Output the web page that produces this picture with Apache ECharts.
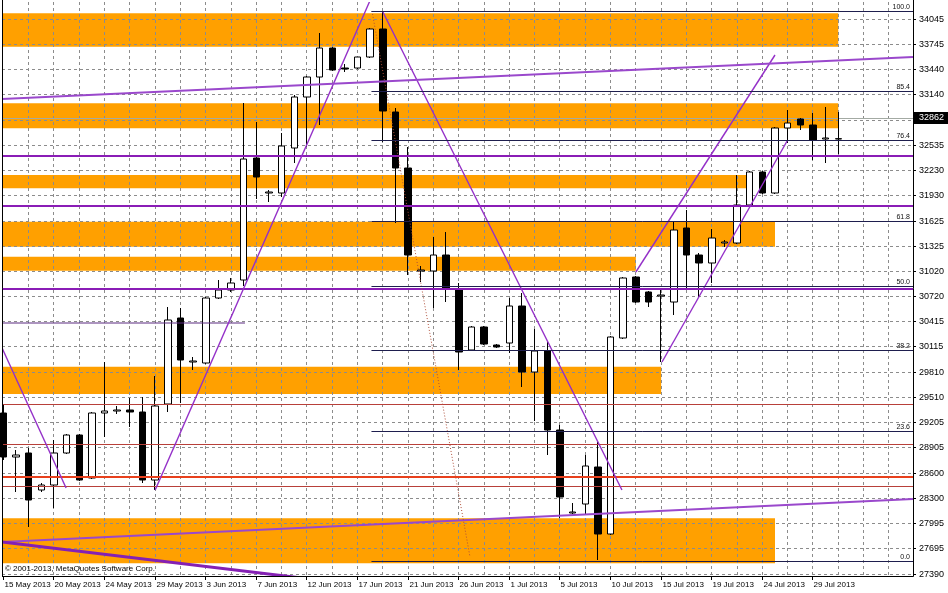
<!DOCTYPE html>
<html><head><meta charset="utf-8">
<script src="https://cdn.jsdelivr.net/npm/echarts@6/dist/echarts.min.js"></script>
<style>html,body{margin:0;padding:0;background:#fff}#c{width:948px;height:593px}</style>
</head><body><div id="c"></div>
<script>
// ================= DATA =================
const dateLabels = ['15 May 2013','20 May 2013','24 May 2013','29 May 2013','3 Jun 2013','7 Jun 2013','12 Jun 2013','17 Jun 2013','21 Jun 2013','26 Jun 2013','1 Jul 2013','5 Jul 2013','10 Jul 2013','15 Jul 2013','19 Jul 2013','24 Jul 2013','29 Jul 2013'];
const dateLabelBars = [0,4,8,12,16,20,24,28,32,36,40,44,48,52,56,60,64];

const barOpen  = [29322,28794,28842,28398,28458,28842,29058,28542,29322,29346,29358,29334,28518,29430,30462,29934,29922,30702,30798,30918,32382,31962,31962,32502,33114,33354,33702,33462,33462,33594,33930,32934,32262,31026,31026,31218,30798,30078,30354,30138,30162,30606,29814,30066,29118,28122,28230,28674,27870,30222,30954,30774,30726,30654,31542,31218,31122,31362,31362,31818,32214,31962,32742,32850,32778,32610,32610];
const barClose = [28794,28818,28278,28458,28842,29058,28518,29322,29346,29358,29334,28518,29406,30438,29958,29946,30702,30798,30882,32370,32154,31974,32526,33114,33354,33702,33438,33450,33594,33930,32946,32262,31218,31038,31218,30822,30054,30354,30150,30114,30606,29814,30066,29118,28314,28134,28686,27870,30234,30942,30654,30654,30738,31518,31218,31122,31422,31374,31818,32214,31962,32742,32802,32778,32598,32622,32614];
const barLow   = [28758,28374,27954,28374,28182,28830,28506,28530,29034,29310,29154,28482,28398,29334,29442,29838,29910,30690,30774,30846,31890,31854,31914,32322,32514,32778,33426,33414,33450,33582,32574,31602,30978,30894,30582,30654,29838,30066,30138,30102,30042,29634,29226,28818,28062,28110,28098,27558,27858,30210,30642,30594,29934,30498,30798,30702,30882,31314,31350,31806,31950,31950,32562,32718,32358,32322,32430];
const barHigh  = [29418,28878,28902,28482,28998,29070,29070,29334,29934,29406,29502,29514,29766,30594,30582,29994,30714,30918,30942,33042,32814,31998,32682,33138,33366,33882,33714,33510,33594,33942,34134,32982,32514,31086,31434,31494,30882,30366,30366,30150,30702,30762,30330,30174,29178,28242,28818,28974,30246,30954,30966,30786,30798,31614,31758,31242,31530,31398,32178,32226,32226,32754,32958,32862,32922,32994,32934];

const yTicks = [27390,27695,27995,28300,28600,28905,29205,29510,29810,30115,30415,30720,31020,31325,31625,31930,32230,32535,32835,33140,33440,33745,34045];
const bidPrice = 32862;

// supply/demand zones: start bar, end bar, top price, bottom price
const zoneStart  = [-1,-1,-1,-1,-1,-1,-1];
const zoneEnd    = [66,66,59,61,50,52,61];
const zoneTop    = [34118,33038,32178,31618,31198,29878,28058];
const zoneBottom = [33718,32738,32018,31318,31030,29550,27518];

const purpleLevels = [32406,31806,30810];
const redLevels = [29430,28950,28446];
const redMainLevel = [28554];
const shortLevel = [[-1,30402,19.1,30402]];

// trend lines: [bar1, price1, bar2, price2]
const trendThin = [[12.0,28398,30.0,34622],[30.0,34134,48.9,28398],[-0.11,30104,4.96,28422],[50.0,31014,61.0,33618],[52.07,29934,62.0,32598]];
const trendWide = [[-0.11,33089,71.91,33594],[-0.11,27774,71.91,28290]];
const trendThick = [[-0.11,27775,26,27298]];
const fibTrend = [[29.14,34146,36.89,27594]];

const fibHigh = 34146, fibLow = 27546, fibStartBar = 29.1;
const fibRatios = [0,23.6,38.2,50,61.8,76.4,85.4,100];

// ================= CHART =================
const X_MIN = -0.107, X_MAX = 71.909, Y_MIN = 27366, Y_MAX = 34254;
const ORANGE = '#FFA000';
const FONT = '"Liberation Sans", Arial, sans-serif';
const cr = v => Math.round(v - 0.5) + 0.5;

function lineEl(x1,y1,x2,y2,stroke,w,dash){
  return {type:'line', shape:{x1:x1,y1:y1,x2:x2,y2:y2}, style:{stroke:stroke, lineWidth:w, lineDash:dash||null}};
}
function trendSeries(data, stroke, width, dash){
  return {type:'custom', z:4, clip:true, silent:true, data:data,
    renderItem:function(params, api){
      const a = api.coord([api.value(0), api.value(1)]);
      const b = api.coord([api.value(2), api.value(3)]);
      return lineEl(a[0],a[1],b[0],b[1],stroke,width,dash);
    }};
}
function levelSeries(values, stroke, width, z){
  return {type:'custom', z:z||4, clip:true, silent:true, data:values.map(v=>[v]),
    renderItem:function(params, api){
      const cs = params.coordSys;
      const y = api.coord([0, api.value(0)])[1];
      const yy = width % 2 === 1 ? cr(y) : Math.round(y);
      return lineEl(cs.x, yy, cs.x+cs.width, yy, stroke, width);
    }};
}

const gridBars = [];
for (let b = 2; b <= 70; b += 2) gridBars.push(b);

const candleData = barOpen.map((o,i)=>[i, o, barClose[i], barLow[i], barHigh[i]]);

const option = {
  animation:false,
  backgroundColor:'#ffffff',
  grid:{left:2, right:35, top:2, bottom:17},
  xAxis:{type:'value', min:X_MIN, max:X_MAX, show:false},
  yAxis:{type:'value', min:Y_MIN, max:Y_MAX, show:false},
  series:[
    // zones
    {type:'custom', z:1, clip:true, silent:true,
     data: zoneStart.map((s,i)=>[s, zoneEnd[i], zoneTop[i], zoneBottom[i]]),
     renderItem:function(params, api){
       const p1 = api.coord([api.value(0), api.value(2)]);
       const p2 = api.coord([api.value(1), api.value(3)]);
       return {type:'rect', shape:{x:p1[0], y:p1[1], width:p2[0]-p1[0], height:p2[1]-p1[1]}, style:{fill:ORANGE}};
     }},
    // horizontal grid
    {type:'custom', z:2, clip:true, silent:true, data:yTicks.map(v=>[v]),
     renderItem:function(params, api){
       const cs = params.coordSys;
       const y = cr(api.coord([0, api.value(0)])[1]);
       return lineEl(cs.x, y, cs.x+cs.width, y, '#8c8c8c', 1, [3,3]);
     }},
    // vertical grid
    {type:'custom', z:2, clip:true, silent:true, data:gridBars.map(b=>[b]),
     renderItem:function(params, api){
       const cs = params.coordSys;
       const x = cr(api.coord([api.value(0), Y_MIN])[0]);
       return lineEl(x, cs.y, x, cs.y+cs.height, '#8c8c8c', 1, [3,3]);
     }},
    // candles
    {type:'candlestick', z:3, clip:true, barWidth:7, data:candleData, silent:true,
     itemStyle:{color:'#ffffff', color0:'#000000', borderColor:'#000000', borderColor0:'#000000', borderWidth:1}},
    // levels
    levelSeries([bidPrice], '#a3aaa3', 1, 3),
    levelSeries(purpleLevels, '#8A1CB6', 2),
    levelSeries(redLevels, '#B8403A', 1),
    levelSeries(redMainLevel, '#E8401C', 2),
    trendSeries(shortLevel, '#5a2a80', 1),
    trendSeries(trendThin, '#9430C8', 1.4),
    trendSeries(trendWide, '#9A48CC', 2),
    trendSeries(trendThick, '#8420B4', 3),
    trendSeries(fibTrend, '#B0503A', 1, [1,2]),
    // fibonacci
    {type:'custom', z:4, clip:false, silent:true, data:fibRatios.map(r=>[r]),
     renderItem:function(params, api){
       const cs = params.coordSys;
       const r = api.value(0);
       const v = fibLow + (fibHigh - fibLow) * r / 100;
       const p = api.coord([fibStartBar, v]);
       const y = cr(p[1]);
       const right = cs.x + cs.width;
       return {type:'group', children:[
         lineEl(p[0], y, right, y, '#1E1E4E', 1),
         {type:'text', x:right-3, y:y-1, style:{text:r.toFixed(1), fill:'#111', font:'7px '+FONT, align:'right', verticalAlign:'bottom'}}
       ]};
     }},
    // right axis labels
    {type:'custom', z:6, clip:false, silent:true, data:yTicks.map(v=>[v]),
     renderItem:function(params, api){
       const cs = params.coordSys;
       const right = cs.x + cs.width;
       const y = cr(api.coord([0, api.value(0)])[1]);
       return {type:'group', children:[
         lineEl(right, y, right+3, y, '#000', 1),
         {type:'text', x:right+6, y:y, style:{text:String(api.value(0)), fill:'#000', font:'9px '+FONT, align:'left', verticalAlign:'middle'}}
       ]};
     }},
    // current price box
    {type:'custom', z:7, clip:false, silent:true, data:[[bidPrice]],
     renderItem:function(params, api){
       const cs = params.coordSys;
       const right = cs.x + cs.width;
       const y = api.coord([0, api.value(0)])[1];
       return {type:'group', children:[
         {type:'rect', shape:{x:right+1, y:Math.round(y)-6, width:40, height:12}, style:{fill:'#000'}},
         {type:'text', x:right+6, y:Math.round(y), style:{text:String(api.value(0)), fill:'#fff', font:'9px '+FONT, align:'left', verticalAlign:'middle'}}
       ]};
     }},
    // bottom date labels
    {type:'custom', z:6, clip:false, silent:true, data:dateLabelBars.map((b,i)=>[b,i]),
     renderItem:function(params, api){
       const cs = params.coordSys;
       const x = cr(api.coord([api.value(0), Y_MIN])[0]);
       const bottom = cs.y + cs.height;
       return {type:'group', children:[
         lineEl(x, bottom, x, bottom+4, '#000', 1),
         {type:'text', x:x+1, y:bottom+9, style:{text:dateLabels[api.value(1)], fill:'#000', font:'8px '+FONT, align:'left', verticalAlign:'middle'}}
       ]};
     }}
  ],
  graphic:[
    {type:'line', z:10, shape:{x1:2.5, y1:0, x2:2.5, y2:576.5}, style:{stroke:'#000', lineWidth:1}},
    {type:'line', z:10, shape:{x1:2, y1:576.5, x2:913.5, y2:576.5}, style:{stroke:'#000', lineWidth:1}},
    {type:'line', z:10, shape:{x1:913.5, y1:0, x2:913.5, y2:576.5}, style:{stroke:'#000', lineWidth:1}},
    {type:'text', z:10, left:5, top:565, style:{text:'© 2001-2013, MetaQuotes Software Corp.', fill:'#000', font:'8px '+FONT}}
  ]
};
const chart = echarts.init(document.getElementById('c'), null, {renderer:'canvas', width:948, height:593});
chart.setOption(option);
</script>
</body></html>
